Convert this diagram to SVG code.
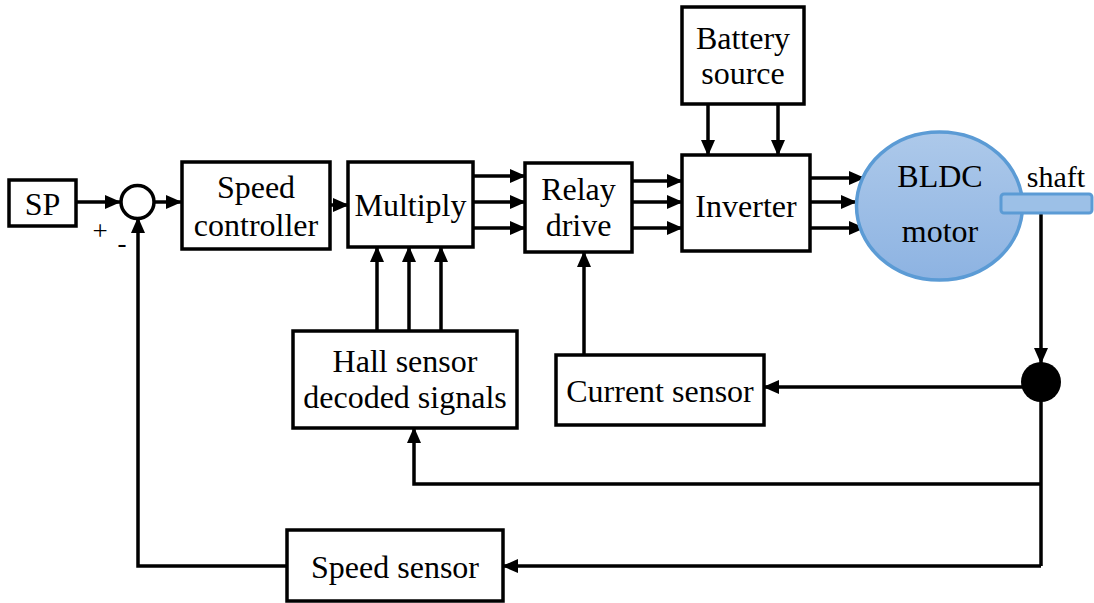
<svg xmlns="http://www.w3.org/2000/svg" width="1094" height="603" viewBox="0 0 1094 603">
<style>
.box{fill:#fff;stroke:#000;stroke-width:3.5}
.t{font-family:"Liberation Serif","Times New Roman",serif;font-size:32px;fill:#000;text-anchor:middle}
.w{fill:none;stroke:#000;stroke-width:3.5}
</style>
<defs>
<marker id="ah" markerWidth="16" markerHeight="14" refX="15" refY="7" orient="auto" markerUnits="userSpaceOnUse">
<path d="M0,0 L16,7 L0,14 Z" fill="#000"/>
</marker>
<linearGradient id="mg" x1="0" y1="0" x2="0" y2="1">
<stop offset="0" stop-color="#adc9ea"/>
<stop offset="1" stop-color="#8db3e2"/>
</linearGradient>
</defs>
<rect width="1094" height="603" fill="#fff"/>

<g id="connectors">
<line class="w" x1="76" y1="202" x2="120" y2="202" marker-end="url(#ah)"/>
<line class="w" x1="155" y1="202" x2="181" y2="202" marker-end="url(#ah)"/>
<line class="w" x1="330" y1="205" x2="348" y2="205" marker-end="url(#ah)"/>
<line class="w" x1="473" y1="176" x2="525" y2="176" marker-end="url(#ah)"/>
<line class="w" x1="473" y1="202" x2="525" y2="202" marker-end="url(#ah)"/>
<line class="w" x1="473" y1="228" x2="525" y2="228" marker-end="url(#ah)"/>
<line class="w" x1="632" y1="181" x2="682" y2="181" marker-end="url(#ah)"/>
<line class="w" x1="632" y1="202" x2="682" y2="202" marker-end="url(#ah)"/>
<line class="w" x1="632" y1="228" x2="682" y2="228" marker-end="url(#ah)"/>
<line class="w" x1="708" y1="104" x2="708" y2="155" marker-end="url(#ah)"/>
<line class="w" x1="778" y1="104" x2="778" y2="155" marker-end="url(#ah)"/>
<line class="w" x1="810" y1="178" x2="864" y2="178" marker-end="url(#ah)"/>
<line class="w" x1="810" y1="202" x2="856" y2="202" marker-end="url(#ah)"/>
<line class="w" x1="810" y1="228" x2="864" y2="228" marker-end="url(#ah)"/>
<line class="w" x1="377" y1="331" x2="377" y2="247" marker-end="url(#ah)"/>
<line class="w" x1="409" y1="331" x2="409" y2="247" marker-end="url(#ah)"/>
<line class="w" x1="441" y1="331" x2="441" y2="247" marker-end="url(#ah)"/>
<line class="w" x1="584" y1="355" x2="584" y2="252" marker-end="url(#ah)"/>
<line class="w" x1="1041" y1="213" x2="1041" y2="363" marker-end="url(#ah)"/>
<line class="w" x1="1041" y1="387" x2="764" y2="387" marker-end="url(#ah)"/>
<line class="w" x1="1041" y1="400" x2="1041" y2="566"/>
<polyline class="w" points="1041,484 414,484 414,428" marker-end="url(#ah)"/>
<line class="w" x1="1041" y1="566" x2="503" y2="566" marker-end="url(#ah)"/>
<polyline class="w" points="287,566 138,566 138,218" marker-end="url(#ah)"/>
<circle cx="1041" cy="382" r="20" fill="#000"/>
</g>

<g id="sp">
<rect class="box" x="9" y="180" width="67" height="46"/>
<text class="t" x="42.5" y="215">SP</text>
</g>
<g id="sum">
<circle cx="137.5" cy="202" r="16.5" fill="#fff" stroke="#000" stroke-width="3.5"/>
<text class="t" x="100" y="240" style="font-size:27px">+</text>
<text class="t" x="122" y="252" style="font-size:27px">-</text>
</g>
<g id="speed-controller">
<rect class="box" x="182" y="162" width="148" height="87"/>
<text class="t" x="256" y="198">Speed</text>
<text class="t" x="256" y="236">controller</text>
</g>
<g id="multiply">
<rect class="box" x="348" y="162" width="125" height="85"/>
<text class="t" x="410.5" y="216">Multiply</text>
</g>
<g id="relay-drive">
<rect class="box" x="525" y="163" width="107" height="89"/>
<text class="t" x="578.5" y="200">Relay</text>
<text class="t" x="578.5" y="236">drive</text>
</g>
<g id="battery">
<rect class="box" x="682" y="7" width="122" height="97"/>
<text class="t" x="743" y="49">Battery</text>
<text class="t" x="743" y="84">source</text>
</g>
<g id="inverter">
<rect class="box" x="682" y="155" width="128" height="96"/>
<text class="t" x="746" y="217">Inverter</text>
</g>
<g id="motor">
<ellipse cx="939.5" cy="206" rx="83" ry="74" fill="url(#mg)" stroke="#5b9bd5" stroke-width="3.5"/>
<text class="t" x="940" y="187">BLDC</text>
<text class="t" x="940" y="242">motor</text>
</g>
<g id="shaft">
<rect x="1001" y="194" width="91" height="19" rx="3" fill="#9cc0e7" stroke="#5b9bd5" stroke-width="3"/>
<text class="t" x="1056" y="187" style="font-size:30px">shaft</text>
</g>
<g id="hall-sensor">
<rect class="box" x="293" y="331" width="224" height="97"/>
<text class="t" x="405" y="372">Hall sensor</text>
<text class="t" x="405" y="408">decoded signals</text>
</g>
<g id="current-sensor">
<rect class="box" x="556" y="355" width="208" height="70"/>
<text class="t" x="660" y="402">Current sensor</text>
</g>
<g id="speed-sensor">
<rect class="box" x="287" y="530" width="216" height="71"/>
<text class="t" x="395" y="578">Speed sensor</text>
</g>
</svg>
